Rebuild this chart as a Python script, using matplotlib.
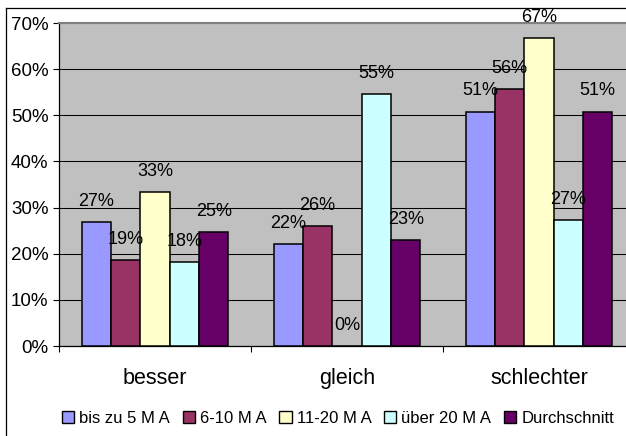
import matplotlib
matplotlib.use("Agg")
import matplotlib.pyplot as plt
from matplotlib.patches import Patch
from matplotlib.lines import Line2D
import numpy as np

plt.rcParams['font.family'] = ['Liberation Sans', 'DejaVu Sans']

categories = ["besser", "gleich", "schlechter"]
series_names = ["bis zu 5 M A", "6-10 M A", "11-20 M A", "über 20 M A", "Durchschnitt"]
bis_zu_5 = [26.9, 22.0, 50.8]
ma_6_10 = [18.6, 26.0, 55.6]
ma_11_20 = [33.3, 0.0, 66.7]
ueber_20 = [18.2, 54.6, 27.3]
durchschnitt = [24.7, 23.0, 50.8]
series = [bis_zu_5, ma_6_10, ma_11_20, ueber_20, durchschnitt]
colors = ["#9999FF", "#993366", "#FFFFCC", "#CCFFFF", "#660066"]
y_ticks = [0, 10, 20, 30, 40, 50, 60, 70]

W, H = 626, 436
fig = plt.figure(figsize=(W / 100, H / 100), dpi=100)
fig.patch.set_facecolor("white")

# plot area (runs past the right edge of the canvas)
ax = fig.add_axes([59 / W, 90 / H, 576 / W, 323 / H])
ax.set_facecolor("#C0C0C0")

n = len(series)
bar_w = 0.153
x = np.arange(len(categories))
for i, (vals, col) in enumerate(zip(series, colors)):
    pos = x - bar_w * n / 2 + bar_w * (i + 0.5)
    bars = ax.bar(pos, vals, width=bar_w, color=col, edgecolor="black",
                  linewidth=1.1, zorder=3)
    for b, v in zip(bars, vals):
        ax.annotate(f"{v:.0f}%", (b.get_x() + b.get_width() / 2, v),
                    xytext=(0, 15), textcoords="offset points",
                    ha="center", va="center", fontsize=13, zorder=4)

ax.set_xlim(-0.5, 2.5)
ax.set_ylim(0, 70)
ax.set_yticks(y_ticks)
ax.set_yticklabels([f"{t}%" for t in y_ticks])
ax.yaxis.grid(True, color="black", linewidth=0.75, zorder=1)
ax.set_axisbelow(True)

ax.set_xticks(x)
ax.set_xticklabels(categories)
ax.set_xticks([-0.5, 0.5, 1.5, 2.5], minor=True)
ax.tick_params(axis="x", which="major", length=0, pad=16, labelsize=15.5)
ax.tick_params(axis="x", which="minor", length=4.5, width=0.8, direction="out")
ax.tick_params(axis="y", length=4.5, width=0.8, pad=3, labelsize=13.5)

for s in ["left", "bottom"]:
    ax.spines[s].set_color("black")
    ax.spines[s].set_linewidth(0.9)
ax.spines["top"].set_color("#808080")
ax.spines["top"].set_linewidth(1.5)
ax.spines["right"].set_visible(False)

handles = [Patch(facecolor=c, edgecolor="black", linewidth=1.0) for c in colors]
fig.legend(handles, series_names, loc="center", ncol=5,
           bbox_to_anchor=(338 / W, 1 - 418 / H), frameon=False,
           fontsize=12, handlelength=0.75, handleheight=0.75,
           handletextpad=0.3, columnspacing=0.75, borderpad=0)

# chart frame along the left and top edges
fig.add_artist(Line2D([5.5 / W, 5.5 / W], [0, 1 - 8 / H], color="black",
                      linewidth=0.9, transform=fig.transFigure))
fig.add_artist(Line2D([5.5 / W, 1], [1 - 8 / H, 1 - 8 / H], color="black",
                      linewidth=0.9, transform=fig.transFigure))

fig.savefig("out.png", dpi=100)
